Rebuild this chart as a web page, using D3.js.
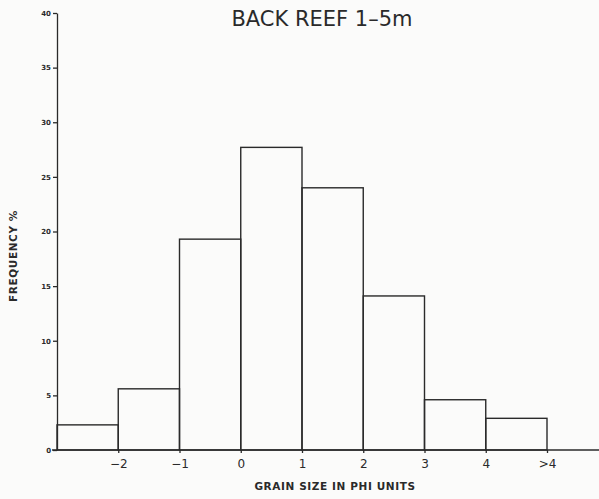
<!DOCTYPE html>
<html>
<head>
<meta charset="utf-8">
<script src="https://cdn.jsdelivr.net/npm/d3@7"></script>
<style>
  body { margin: 0; background: #fbfbfa; }
  svg { display: block; }
  text { fill: #2a2a2a; font-family: "DejaVu Sans", sans-serif; }
  .axis path, .axis line { stroke: #2a2a2a; stroke-width: 1.3; }
</style>
</head>
<body>
<script>
//chart values
var binStart = [-3, -2, -1, 0, 1, 2, 3, 4]; //lower edge of each phi class
var frequency = [2.3, 5.6, 19.3, 27.7, 24.0, 14.1, 4.6, 2.9]; //percent per class
var xTicks = [-2, -1, 0, 1, 2, 3, 4, 5];
var xTickLabels = ["\u22122", "\u22121", "0", "1", "2", "3", "4", ">4"];
var yTicks = [0, 5, 10, 15, 20, 25, 30, 35, 40];

window.onload = drawChart();

function drawChart(){
  var width = 599, height = 499;

  var svg = d3.select("body")
    .append("svg")
    .attr("width", width)
    .attr("height", height);

  var x = d3.scaleLinear() //phi units to pixels
    .domain([-3, 5])
    .range([57, 547]);

  var y = d3.scaleLinear()
    .domain([0, 40])
    .range([450, 13]);

  //bars, drawn as outlined boxes
  svg.selectAll(".bar")
    .data(binStart)
    .enter()
    .append("rect")
    .attr("class", "bar")
    .attr("x", function(d){ return x(d); })
    .attr("width", function(d){ return x(d + 1) - x(d); })
    .attr("y", function(d, i){ return y(frequency[i]); })
    .attr("height", function(d, i){ return y(0) - y(frequency[i]); })
    .style("fill", "none")
    .style("stroke", "#2a2a2a")
    .style("stroke-width", 1.4);

  //y axis
  var yAxis = svg.append("g")
    .attr("class", "axis")
    .attr("transform", "translate(" + x(-3) + ",0)")
    .call(d3.axisLeft(y).tickValues(yTicks).tickSize(4).tickSizeOuter(0).tickPadding(2));
  yAxis.selectAll("text")
    .style("font-size", "7px")
    .style("font-weight", "bold");

  //baseline runs to the right edge
  svg.append("line")
    .attr("x1", x(-3) - 5)
    .attr("x2", width)
    .attr("y1", y(0))
    .attr("y2", y(0))
    .style("stroke", "#2a2a2a")
    .style("stroke-width", 1.4);

  //x axis ticks and labels
  var xAxis = svg.append("g")
    .attr("class", "axis")
    .attr("transform", "translate(0," + y(0) + ")")
    .call(d3.axisBottom(x).tickValues(xTicks)
      .tickFormat(function(d, i){ return xTickLabels[i]; })
      .tickSize(3).tickSizeOuter(0).tickPadding(6));
  xAxis.select(".domain").remove();
  xAxis.selectAll("text")
    .style("font-size", "12px");

  //title
  svg.append("text")
    .attr("x", 322)
    .attr("y", 26)
    .attr("text-anchor", "middle")
    .style("font-size", "21px")
    .text("BACK REEF 1\u20135m");

  //axis titles
  svg.append("text")
    .attr("x", 335)
    .attr("y", 490)
    .attr("text-anchor", "middle")
    .style("font-size", "10.5px")
    .style("font-weight", "bold")
    .style("letter-spacing", "0.6px")
    .text("GRAIN SIZE IN PHI UNITS");

  svg.append("text")
    .attr("transform", "translate(17,256) rotate(-90)")
    .attr("text-anchor", "middle")
    .style("font-size", "10.5px")
    .style("font-weight", "bold")
    .style("letter-spacing", "0.6px")
    .text("FREQUENCY %");
}
</script>
</body>
</html>
